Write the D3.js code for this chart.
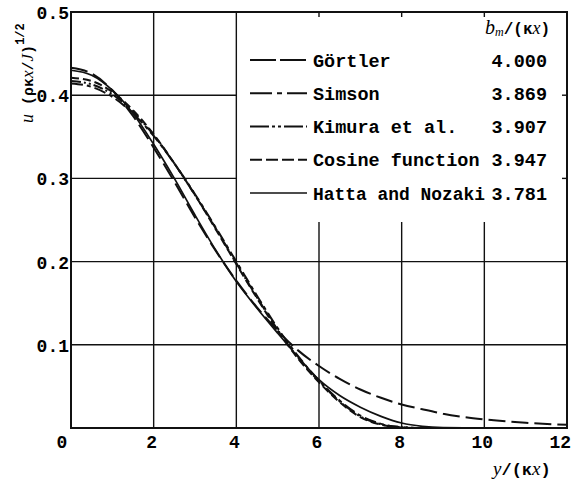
<!DOCTYPE html>
<html>
<head>
<meta charset="utf-8">
<script src="https://cdn.jsdelivr.net/npm/d3@7"></script>
<style>
  body { margin: 0; background: #fff; }
  svg { display: block; }
  .mono { font-family: "Liberation Mono", "DejaVu Sans Mono", monospace; font-weight: bold; }
  .ital { font-family: "Liberation Serif", "DejaVu Serif", serif; font-style: italic; }
</style>
</head>
<body>
<svg id="chart" width="572" height="482"></svg>
<script>
// y/(kx) positions where the curves were read
const xs = [0, 0.5, 1, 1.5, 2, 2.5, 3, 3.5, 4, 4.5, 5, 5.5, 6, 6.5, 7, 7.5, 8, 8.5, 9, 10, 11, 12];

// u (rho k x / J)^1/2 for each profile
const gortler = [0.433, 0.426, 0.406, 0.375, 0.337, 0.296, 0.253, 0.213, 0.177, 0.145, 0.117, 0.093, 0.0745, 0.059, 0.0463, 0.0363, 0.0283, 0.0225, 0.0172, 0.0104, 0.0063, 0.0038];
const simson  = [0.414, 0.410, 0.398, 0.378, 0.351, 0.318, 0.281, 0.241, 0.200, 0.159, 0.120, 0.086, 0.057, 0.033, 0.015, 0.005, 0.001, 0, 0, 0, 0, 0];
const kimura  = [0.417, 0.413, 0.401, 0.380, 0.352, 0.318, 0.280, 0.240, 0.198, 0.157, 0.118, 0.084, 0.056, 0.032, 0.014, 0.0045, 0.001, 0, 0, 0, 0, 0];
const cosine  = [0.421, 0.417, 0.404, 0.382, 0.353, 0.318, 0.280, 0.239, 0.197, 0.156, 0.117, 0.083, 0.055, 0.031, 0.013, 0.004, 0.0005, 0, 0, 0, 0, 0];
const hatta   = [0.430, 0.424, 0.406, 0.378, 0.341, 0.300, 0.256, 0.214, 0.176, 0.144, 0.114, 0.085, 0.058, 0.039, 0.025, 0.014, 0.006, 0.002, 0.0005, 0, 0, 0];

const seriesNames = ["Görtler", "Simson", "Kimura et al.", "Cosine function", "Hatta and Nozaki"];
const bmValues = ["4.000", "3.869", "3.907", "3.947", "3.781"];
const xTicks = [0, 2, 4, 6, 8, 10, 12];
const yTicks = [0.1, 0.2, 0.3, 0.4, 0.5];

const series = [gortler, simson, kimura, cosine, hatta];
// dash patterns: in the plot, and in the legend sample
const plotDash = ["17,6", "12,4,4,4", "10,3,2,3,2,3", "8,4", null];
const legDash  = ["26,4", "22,5,5,5", "19,3,3,3,3,3", "12,4", null];
const widths   = [2, 2, 2, 2, 1.7];

const svg = d3.select("#chart");
const x = d3.scaleLinear().domain([0, 12]).range([71, 567]);
const y = d3.scaleLinear().domain([0, 0.5]).range([428, 12]);

const legTop = 222;   // grid lines stop under the legend
const ink = "#111";

// grid
const grid = svg.append("g").attr("stroke", ink).attr("stroke-width", 1.4);
[2, 4].forEach(v => grid.append("line")
  .attr("x1", x(v)).attr("x2", x(v)).attr("y1", y(0)).attr("y2", y(0.5)));
[6, 8, 10].forEach(v => {
  grid.append("line").attr("x1", x(v)).attr("x2", x(v)).attr("y1", y(0)).attr("y2", legTop);
  grid.append("line").attr("x1", x(v)).attr("x2", x(v)).attr("y1", y(0.5)).attr("y2", y(0.5) + 5);
});
[0.1, 0.2].forEach(v => grid.append("line")
  .attr("x1", x(0)).attr("x2", x(12)).attr("y1", y(v)).attr("y2", y(v)));
[0.3, 0.4].forEach(v => {
  grid.append("line").attr("x1", x(0)).attr("x2", x(4)).attr("y1", y(v)).attr("y2", y(v));
  grid.append("line").attr("x1", x(12) - 5).attr("x2", x(12)).attr("y1", y(v)).attr("y2", y(v));
});

// frame
svg.append("rect")
  .attr("x", x(0)).attr("y", y(0.5))
  .attr("width", x(12) - x(0)).attr("height", y(0) - y(0.5))
  .attr("fill", "none").attr("stroke", ink).attr("stroke-width", 2);

// curves
const line = d3.line().x((d, i) => x(xs[i])).y(d => y(d)).curve(d3.curveMonotoneX);
series.forEach((s, i) => {
  svg.append("path")
    .attr("d", line(s))
    .attr("fill", "none")
    .attr("stroke", ink)
    .attr("stroke-width", widths[i])
    .attr("stroke-dasharray", plotDash[i]);
});

// tick labels
svg.selectAll(".ylab").data(yTicks).join("text")
  .attr("class", "mono")
  .attr("x", 69).attr("y", d => y(d) + 7)
  .attr("text-anchor", "end").attr("font-size", 18)
  .text(d => d.toFixed(1));
svg.selectAll(".xlab").data(xTicks).join("text")
  .attr("class", "mono")
  .attr("x", d => d === 0 ? x(d) - 9 : (d === 12 ? 571 : x(d) - 2))
  .attr("y", 448)
  .attr("text-anchor", d => d === 12 ? "end" : "middle").attr("font-size", 18)
  .text(d => d);

// axis titles
const xt = svg.append("text").attr("x", 493).attr("y", 475).attr("font-size", 17);
xt.append("tspan").attr("class", "ital").attr("font-size", 19).text("y");
xt.append("tspan").attr("class", "mono").attr("font-weight", "normal").text("/(κ");
xt.append("tspan").attr("class", "ital").attr("font-size", 19).text("x");
xt.append("tspan").attr("class", "mono").attr("font-weight", "normal").text(")");

const yt = svg.append("text")
  .attr("transform", "translate(33,123) rotate(-90)")
  .attr("font-size", 15);
yt.append("tspan").attr("class", "ital").attr("font-size", 18).text("u");
yt.append("tspan").attr("class", "mono").attr("font-weight", "normal").text(" (ρκ");
yt.append("tspan").attr("class", "ital").attr("font-size", 17).text("x");
yt.append("tspan").attr("class", "mono").attr("font-weight", "normal").text("/");
yt.append("tspan").attr("class", "ital").attr("font-size", 17).text("J");
yt.append("tspan").attr("class", "mono").attr("font-weight", "normal").text(")");
yt.append("tspan").attr("class", "mono").attr("font-weight", "normal")
  .attr("font-size", 12).attr("dy", -9).text("1/2");

// legend
const leg = svg.append("g");
const hdr = leg.append("text").attr("x", 485).attr("y", 34).attr("font-size", 16);
hdr.append("tspan").attr("class", "ital").attr("font-size", 20).text("b");
hdr.append("tspan").attr("class", "ital").attr("font-size", 12).attr("dy", 2).text("m");
hdr.append("tspan").attr("class", "mono").attr("font-weight", "normal").attr("dy", -2).text("/(κ");
hdr.append("tspan").attr("class", "ital").attr("font-size", 18).text("x");
hdr.append("tspan").attr("class", "mono").attr("font-weight", "normal").text(")");

const rowY = d3.scaleLinear().domain([0, 4]).range([60, 193]);
seriesNames.forEach((name, i) => {
  const cy = rowY(i);
  leg.append("line")
    .attr("x1", 250).attr("x2", 307).attr("y1", cy).attr("y2", cy)
    .attr("stroke", ink).attr("stroke-width", widths[i])
    .attr("stroke-dasharray", legDash[i]);
  const t = leg.append("text").attr("class", "mono")
    .attr("x", 313).attr("y", cy + 6.5).attr("font-size", 18.5)
    .text(name);
  if (i === 4) t.attr("textLength", 172).attr("lengthAdjust", "spacingAndGlyphs");
  leg.append("text").attr("class", "mono")
    .attr("x", 547).attr("y", cy + 6.5).attr("font-size", 18.5)
    .attr("text-anchor", "end")
    .text(bmValues[i]);
});
</script>
</body>
</html>
